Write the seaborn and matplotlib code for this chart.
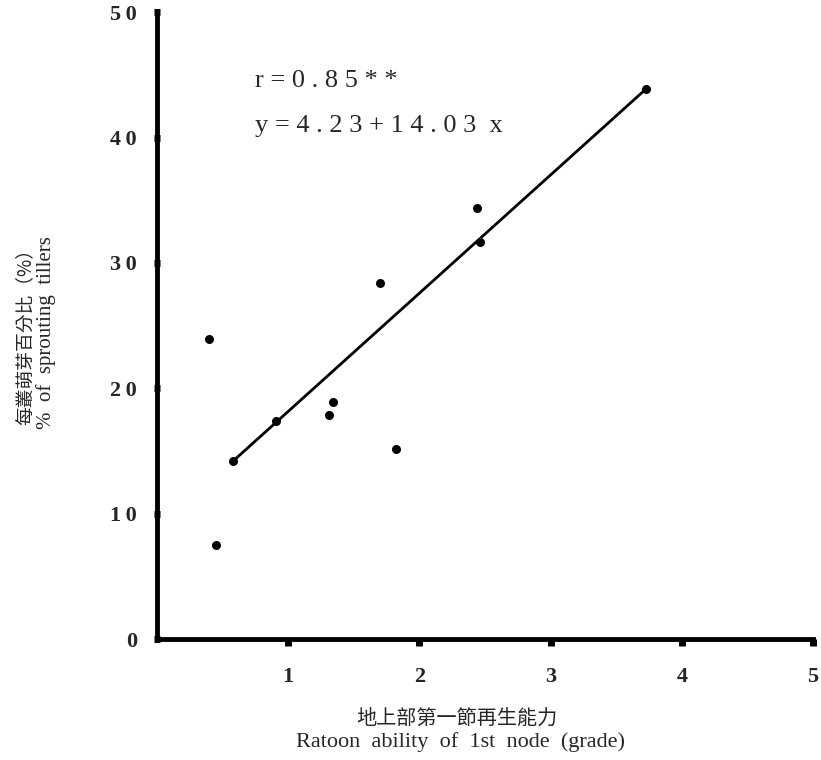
import matplotlib
matplotlib.use('Agg')
import matplotlib.pyplot as plt
import pandas as pd
import seaborn as sns

# ----------------------------------------------------------------------------------------------------------------------
# Data

ratoon_grade = [0.40, 0.45, 0.58, 0.91, 1.31, 1.34, 1.70, 1.82, 2.44, 2.46, 3.73]
sprouting_pct = [23.9, 7.5, 14.2, 17.4, 17.9, 18.9, 28.4, 15.2, 34.4, 31.7, 43.9]

# regression line as drawn on the figure (end points)
line_x = [0.58, 3.73]
line_y = [14.2, 43.9]

x_ticks = [1, 2, 3, 4, 5]
y_ticks = [0, 10, 20, 30, 40, 50]

r_text = 'r = 0 . 8 5 * *'
eq_text = 'y = 4 . 2 3 + 1 4 . 0 3  x'

xlabel_zh = '地上部第一節再生能力'
xlabel_en = 'Ratoon  ability  of  1st  node  (grade)'
ylabel_zh = '每叢萌芽百分比（%）'
ylabel_en = '%  of  sprouting  tillers'

df = pd.DataFrame({'grade': ratoon_grade, 'pct': sprouting_pct})
line_df = pd.DataFrame({'grade': line_x, 'pct': line_y})

# ----------------------------------------------------------------------------------------------------------------------
# Plot
sns.set_theme(style='white')
plt.rcParams['font.family'] = ['Liberation Serif', 'Noto Sans CJK TC', 'DejaVu Sans']

fig = plt.figure(figsize=(8.21, 7.60), dpi=100)
ax = fig.add_axes([0.1912, 0.159, 0.799, 0.825])

sns.lineplot(data=line_df, x='grade', y='pct', ax=ax, color='black', linewidth=2)
sns.scatterplot(data=df, x='grade', y='pct', ax=ax, color='black', s=42, edgecolor='black',
                linewidth=0, clip_on=False)

ax.set_xlim(0, 5)
ax.set_ylim(0, 50)
ax.set_xticks(x_ticks)
ax.set_yticks(y_ticks)
# scanned labels are letter-spaced ("5 0")
ax.set_xticklabels([str(t) for t in x_ticks], fontsize=16, fontweight='bold')
ax.set_yticklabels(['\u2009'.join(str(t)) for t in y_ticks], fontsize=16, fontweight='bold')

for side in ['top', 'right']:
    ax.spines[side].set_visible(False)
for side in ['left', 'bottom']:
    ax.spines[side].set_linewidth(3.5)
    ax.spines[side].set_color('black')

ax.tick_params(axis='x', bottom=True, direction='out', length=5, width=5, color='black', pad=15)
ax.tick_params(axis='y', left=True, direction='inout', length=5, width=5, color='black', pad=12)
ax.set_xlabel('')
ax.set_ylabel('')

ax.text(0.75, 44.5, r_text, fontsize=19, va='center', ha='left')
ax.text(0.75, 40.9, eq_text, fontsize=19, va='center', ha='left')

# axis titles
fig.text(0.556, 0.055, xlabel_zh, ha='center', va='center', fontsize=14.5,
         family=['Noto Sans CJK TC', 'DejaVu Sans'])
fig.text(0.561, 0.024, xlabel_en, ha='center', va='center', fontsize=16)
fig.text(0.031, 0.563, ylabel_zh, ha='center', va='center', rotation=90, fontsize=13.5,
         family=['Noto Sans CJK TC', 'DejaVu Sans'])
fig.text(0.056, 0.563, ylabel_en, ha='center', va='center', rotation=90, fontsize=15)

fig.savefig('out.png', dpi=100)
